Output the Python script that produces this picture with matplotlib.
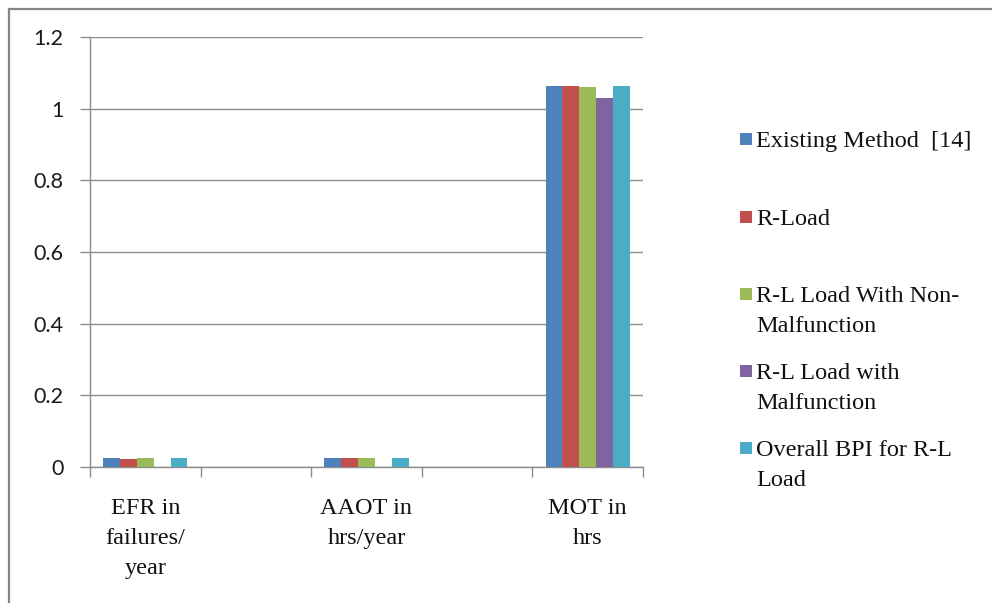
import numpy as np
import matplotlib
matplotlib.use("Agg")
import matplotlib.pyplot as plt
from matplotlib.patches import Rectangle
from matplotlib.lines import Line2D

nan = np.nan

# Category slots (blank slots act as spacers between the three groups)
categories = ["EFR in\nfailures/\nyear", "", "AAOT in\nhrs/year", "", "MOT in\nhrs"]

series_names = [
    "Existing Method  [14]",
    "R-Load",
    "R-L Load With Non-\nMalfunction",
    "R-L Load with\nMalfunction",
    "Overall BPI for R-L\nLoad",
]

existing_method = [0.025, nan, 0.025, nan, 1.064]
r_load = [0.021, nan, 0.025, nan, 1.064]
rl_non_malfunction = [0.025, nan, 0.025, nan, 1.060]
rl_malfunction = [0.0, nan, 0.0, nan, 1.030]
overall_bpi = [0.025, nan, 0.025, nan, 1.062]

series_values = [existing_method, r_load, rl_non_malfunction, rl_malfunction, overall_bpi]
colors = ["#4F81BD", "#C0504D", "#9BBB59", "#8064A2", "#4BACC6"]

yticks = [0, 0.2, 0.4, 0.6, 0.8, 1.0, 1.2]
ytick_labels = ["0", "0.2", "0.4", "0.6", "0.8", "1", "1.2"]

W, H = 992, 603
fig = plt.figure(figsize=(W / 100, H / 100), dpi=100)
fig.patch.set_facecolor("white")

ax = fig.add_axes([90 / W, (H - 467) / H, 553 / W, 430 / H])

grid_color = "#8C8C8C"
serif = ["Liberation Serif", "DejaVu Serif"]
line_gap_px = 30  # distance between baselines of wrapped lines
spacing = 1.58

x = np.arange(len(categories))
bar_w = 0.152
for i, (vals, col) in enumerate(zip(series_values, colors)):
    ax.bar(x + (i - 2) * bar_w, vals, width=bar_w, color=col, zorder=3)

ax.set_xlim(-0.5, len(categories) - 0.5)
ax.set_ylim(0, 1.2)

ax.set_yticks(yticks)
ax.set_yticklabels(ytick_labels, fontfamily="Lato", fontsize=15.5)
ax.tick_params(axis="y", length=7, width=1, color=grid_color, pad=12, labelcolor="#1a1a1a")
ax.yaxis.grid(True, color=grid_color, linewidth=1, zorder=0)

# Boundary ticks between slots, labels at slot centres
ax.set_xticks(np.arange(-0.5, len(categories)), minor=False)
ax.set_xticklabels([])
ax.set_xticks(x, minor=True)
ax.set_xticklabels(categories, minor=True, fontfamily=serif, fontsize=17.5,
                   linespacing=spacing, color="#111111")
ax.tick_params(axis="x", which="major", length=7, width=1, color=grid_color, direction="out")
ax.tick_params(axis="x", which="minor", length=0, pad=22)

for side in ("top", "right"):
    ax.spines[side].set_visible(False)
for side in ("left", "bottom"):
    ax.spines[side].set_color(grid_color)
    ax.spines[side].set_linewidth(1)

# Legend drawn as a column of swatches with wrapped labels;
# each swatch sits beside the first line of its label
legend_centers = [139, 217, 294, 371, 448]
for name, col, cy in zip(series_names, colors, legend_centers):
    fig.add_artist(Rectangle((740 / W, (H - cy - 6) / H), 12 / W, 12 / H,
                             transform=fig.transFigure, facecolor=col, edgecolor="none"))
    last_baseline = cy + 8 + line_gap_px * name.count("\n")
    fig.text(756 / W, (H - last_baseline) / H, name, fontfamily=serif, fontsize=17.5,
             va="baseline", ha="left", linespacing=spacing, color="#111111")

# Chart-area frame along the top and left edges
frame_color = "#878787"
fig.add_artist(Line2D([8.5 / W, 1.0], [(H - 8.5) / H, (H - 8.5) / H],
                      transform=fig.transFigure, color=frame_color, linewidth=1.6))
fig.add_artist(Line2D([8.5 / W, 8.5 / W], [0.0, (H - 8.5) / H],
                      transform=fig.transFigure, color=frame_color, linewidth=1.6))

fig.savefig("out.png", dpi=100, facecolor="white")
